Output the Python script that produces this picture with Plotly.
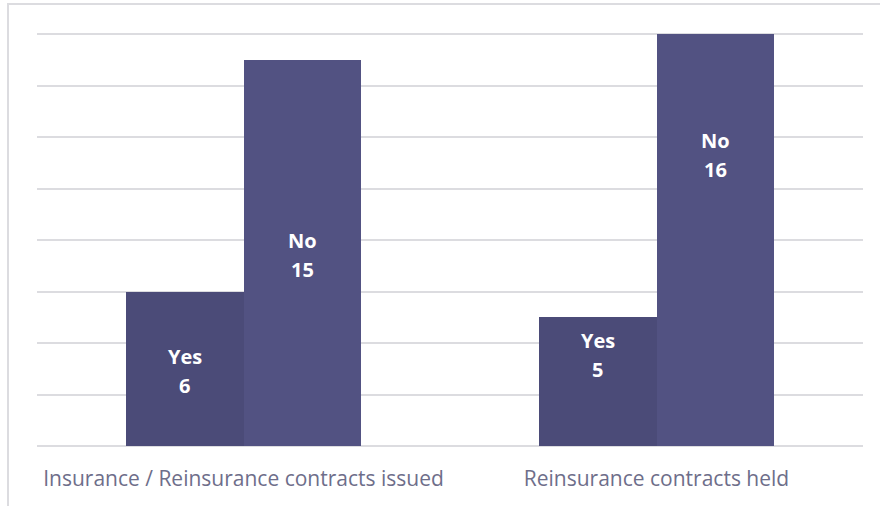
import plotly.graph_objects as go

categories = ["Insurance / Reinsurance contracts issued", "Reinsurance contracts held"]
yes_values = [6, 5]
no_values = [15, 16]
series_names = ["Yes", "No"]
# vertical centres of the two-line labels (data units), as placed in the reference
yes_label_y = [2.92, 3.52]
no_label_y = [7.44, 11.32]

W, H = 880, 506
L, R, T, B = 37, 17, 33, 60
bar_w = 0.2857
x_idx = list(range(len(categories)))

fig = go.Figure()
fig.add_trace(go.Bar(x=x_idx, y=yes_values, name=series_names[0], width=bar_w, offset=-bar_w,
                     marker=dict(color="#4B4B78", line=dict(width=0)), hoverinfo="y"))
fig.add_trace(go.Bar(x=x_idx, y=no_values, name=series_names[1], width=bar_w, offset=0,
                     marker=dict(color="#525282", line=dict(width=0)), hoverinfo="y"))

lab_font = dict(family="Open Sans", size=20, color="white")
annotations = []
for i in x_idx:
    for xc, yc, nm, v in [(i - bar_w / 2, yes_label_y[i], series_names[0], yes_values[i]),
                          (i + bar_w / 2, no_label_y[i], series_names[1], no_values[i])]:
        annotations.append(dict(x=xc, y=yc, xref="x", yref="y", yshift=14.5,
                                text=f"<b>{nm}</b>", showarrow=False, font=lab_font))
        annotations.append(dict(x=xc, y=yc, xref="x", yref="y", yshift=-14.5,
                                text=f"<b>{v}</b>", showarrow=False, font=lab_font))

pw = W - L - R
ph = H - T - B
fig.update_layout(
    width=W, height=H,
    margin=dict(l=L, r=R, t=T, b=B),
    paper_bgcolor="white", plot_bgcolor="white",
    showlegend=False,
    bargap=0,
    annotations=annotations,
    xaxis=dict(range=[-0.5, 1.5], tickvals=x_idx, ticktext=categories, showgrid=False,
               zeroline=False, showline=False, ticks="", ticklabelstandoff=18,
               tickfont=dict(family="Open Sans", size=21, color="#6E6E8A")),
    yaxis=dict(range=[0, 16.05], tickvals=[2, 4, 6, 8, 10, 12, 14, 16], showticklabels=False,
               showgrid=True, gridcolor="#DCDCE0", gridwidth=1.5, zeroline=True,
               zerolinecolor="#DCDCE0", zerolinewidth=1.5, showline=False, ticks=""),
    shapes=[dict(type="rect", xref="paper", yref="paper",
                 x0=(8 - L) / pw, x1=(W + 10 - L) / pw,
                 y0=-(B + 10) / ph, y1=(H - B - 4) / ph,
                 line=dict(color="#DCDCE0", width=2), fillcolor="rgba(0,0,0,0)", layer="below")],
)

fig.write_html("out.html", config={"displayModeBar": False},
               post_script="document.body.style.margin='0';document.body.style.overflow='hidden';")
